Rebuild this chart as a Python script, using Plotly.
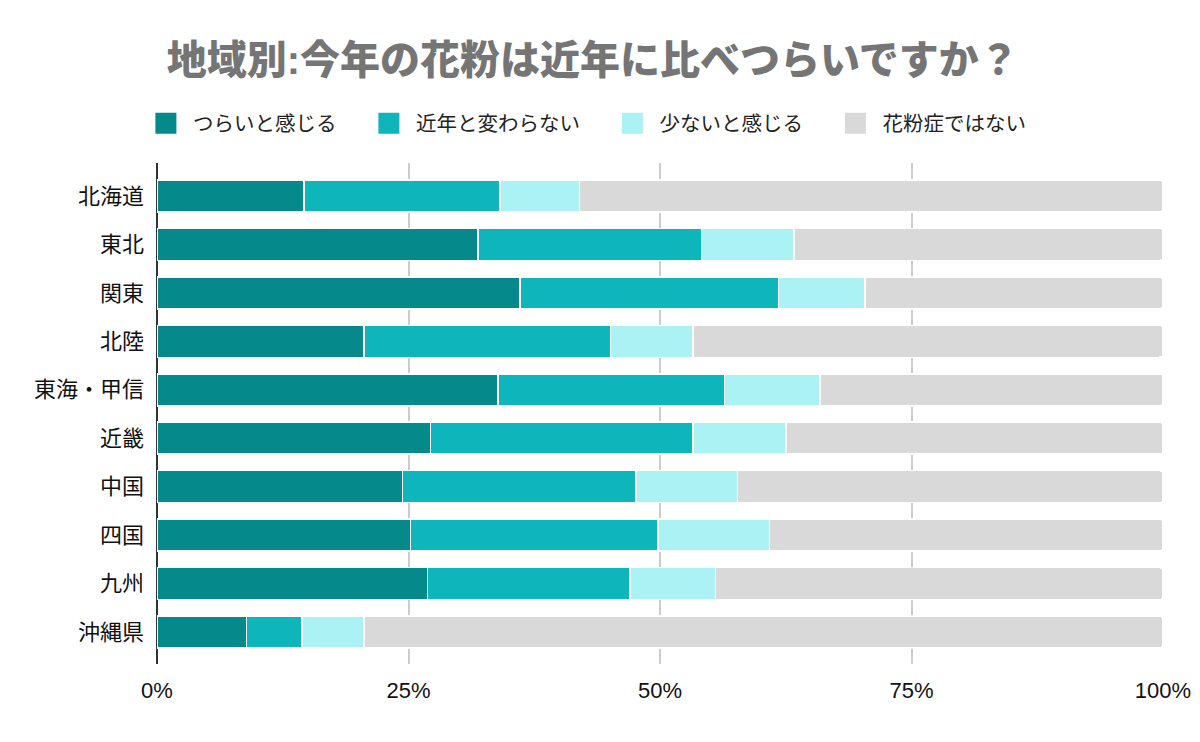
import plotly.graph_objects as go

regions = ["北海道", "東北", "関東", "北陸", "東海・甲信", "近畿", "中国", "四国", "九州", "沖縄県"]
series_names = ["つらいと感じる", "近年と変わらない", "少ないと感じる", "花粉症ではない"]
tsurai = [14.6, 31.9, 36.1, 20.6, 33.9, 27.2, 24.4, 25.2, 26.9, 8.9]
kawaranai = [19.5, 22.2, 25.7, 24.5, 22.5, 26.1, 23.2, 24.6, 20.1, 5.5]
sukunai = [7.9, 9.2, 8.6, 8.2, 9.5, 9.2, 10.1, 11.1, 8.5, 6.2]
kafun_nashi = [58.0, 36.7, 29.6, 46.7, 34.1, 37.5, 42.3, 39.1, 44.5, 79.4]
colors = ["#05898A", "#0EB5BA", "#ABF2F4", "#D9D9D9"]
x_ticks = [0, 25, 50, 75, 100]
x_tick_labels = ["0%", "25%", "50%", "75%", "100%"]
title_text = "地域別:今年の花粉は近年に比べつらいですか？"

FONT = "Liberation Sans, Arial, Noto Sans CJK JP, sans-serif"
PAD = "\u3000"  # invisible trailing space to widen legend entries

fig = go.Figure()
for name, vals, col in zip(series_names, [tsurai, kawaranai, sukunai, kafun_nashi], colors):
    fig.add_trace(go.Bar(
        y=regions, x=vals, orientation="h", name=name,
        marker=dict(color=col, line=dict(color="white", width=1.5)),
        width=0.66, showlegend=False, hoverinfo="x+y",
    ))
# legend entries
for name, col in zip(series_names, colors):
    fig.add_trace(go.Scatter(
        x=[None], y=[None], mode="markers", name=name + PAD,
        marker=dict(symbol="square", size=16, color=col, line=dict(color=col, width=5)),
        showlegend=True,
    ))

fig.update_layout(
    width=1200, height=742,
    barmode="stack", barcornerradius=4,
    paper_bgcolor="white", plot_bgcolor="white",
    margin=dict(l=157, r=37, t=163, b=78, autoexpand=False),
    font=dict(family=FONT, size=20, color="#222222"),
    title=dict(text=title_text, x=0.494, xanchor="center",
               y=1 - 60 / 742, yanchor="middle", yref="container",
               font=dict(family=FONT, size=40, color="#757575", weight=900)),
    legend=dict(orientation="h", x=-0.018, xanchor="left", y=1.079, yanchor="middle",
                traceorder="normal", itemwidth=44,
                font=dict(family=FONT, size=20.5, color="#222222"), itemsizing="trace",
                bgcolor="rgba(0,0,0,0)"),
    xaxis=dict(range=[0, 100], tickvals=x_ticks, ticktext=x_tick_labels,
               showgrid=True, gridcolor="#CCCCCC", gridwidth=2,
               zeroline=True, zerolinecolor="#333333", zerolinewidth=2,
               tickfont=dict(family=FONT, size=22, color="#111111"),
               ticklabelstandoff=11, fixedrange=True, automargin=False),
    yaxis=dict(categoryorder="array", categoryarray=regions,
               range=[9.66, -0.68], showgrid=False, zeroline=False,
               tickfont=dict(family=FONT, size=22, color="#111111"),
               ticklabelstandoff=12, fixedrange=True, automargin=False),
)

fig.write_html("out.html", config={"displayModeBar": False},
               post_script="document.body.style.margin='0';")
